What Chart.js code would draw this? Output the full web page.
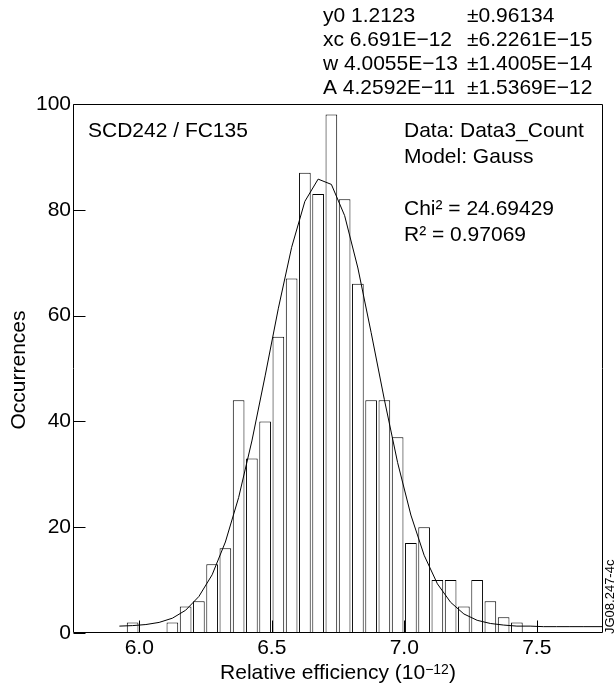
<!DOCTYPE html>
<html><head><meta charset="utf-8">
<script src="https://cdn.jsdelivr.net/npm/chart.js@4.4.0/dist/chart.umd.min.js"></script>
<style>html,body{margin:0;padding:0;background:#fff}canvas{display:block}</style>
</head><body>
<canvas id="c" width="615" height="689"></canvas>
<script>
// ---- data ----
const binCenters = [5.975, 6.025, 6.075, 6.125, 6.175, 6.225, 6.275, 6.325, 6.375, 6.425, 6.475, 6.525, 6.575, 6.625, 6.675, 6.725, 6.775, 6.825, 6.875, 6.925, 6.975, 7.025, 7.075, 7.125, 7.175, 7.225, 7.275, 7.325, 7.375, 7.425];
const counts     = [2, 0, 0, 2, 5, 6, 13, 16, 44, 33, 40, 56, 67, 87, 83, 98, 82, 66, 44, 44, 37, 17, 20, 10, 10, 5, 10, 6, 3, 2];
const fitX = [5.925, 5.975, 6.025, 6.075, 6.125, 6.175, 6.225, 6.275, 6.325, 6.375, 6.425, 6.475, 6.525, 6.575, 6.625, 6.675, 6.725, 6.775, 6.825, 6.875, 6.925, 6.975, 7.025, 7.075, 7.125, 7.175, 7.225, 7.275, 7.325, 7.375, 7.425, 7.475, 7.525, 7.575, 7.625, 7.675, 7.75];
const fitY = [1.3, 1.4, 1.6, 2.0, 2.8, 4.3, 6.9, 11.0, 17.2, 25.6, 36.3, 48.6, 61.4, 72.9, 81.6, 85.8, 84.8, 78.9, 69.0, 56.8, 44.1, 32.2, 22.3, 14.7, 9.3, 5.8, 3.6, 2.4, 1.8, 1.5, 1.3, 1.3, 1.2, 1.2, 1.2, 1.2, 1.2];
const xTickValues = [6.0, 6.5, 7.0, 7.5];
const yTickValues = [0, 20, 40, 60, 80, 100];
const paramNames  = ["y0 1.2123", "xc 6.691E\u221212", "w 4.0055E\u221213", "A 4.2592E\u221211"];
const paramErrors = ["\u00b10.96134", "\u00b16.2261E\u221215", "\u00b11.4005E\u221214", "\u00b11.5369E\u221212"];
const infoLines = ["Data: Data3_Count", "Model: Gauss", "", "Chi\u00b2 = 24.69429", "R\u00b2 = 0.97069"];
const sampleLabel = "SCD242 / FC135";
const yTitle = "Occurrences";
const xTitleMain = "Relative efficiency (10";
const xTitleSup = "\u221212";
const xTitleEnd = ")";
const figId = "JG08.247-4c";

const FONT = '"Liberation Sans", Arial, Helvetica, sans-serif';
Chart.defaults.font.family = FONT;
Chart.defaults.font.size = 21;
Chart.defaults.color = '#000';

const decor = {
  id: 'decor',
  afterDatasetsDraw(chart) {
    const {ctx, chartArea: a, scales: {x, y}} = chart;
    ctx.save();
    ctx.strokeStyle = '#000';
    ctx.lineWidth = 1;
    const L = Math.round(a.left) + 0.5, R = Math.round(a.right) - 0.5;
    const T = Math.round(a.top) + 0.5, B = Math.round(a.bottom) - 0.5;
    ctx.beginPath();
    ctx.rect(L, T, R - L, B - T);
    xTickValues.forEach(v => {
      const px = Math.round(x.getPixelForValue(v)) + 0.5;
      ctx.moveTo(px, B); ctx.lineTo(px, B - 12);
    });
    yTickValues.forEach(v => {
      const py = Math.round(y.getPixelForValue(v)) + 0.5;
      ctx.moveTo(L, py); ctx.lineTo(L + 12, py);
    });
    ctx.stroke();
    ctx.restore();
  },
  afterDraw(chart) {
    const {ctx, chartArea: a} = chart;
    ctx.save();
    ctx.fillStyle = '#000';
    ctx.textBaseline = 'alphabetic';
    ctx.font = '21px ' + FONT;
    ctx.textAlign = 'left';
    // fit parameters above the plot
    paramNames.forEach((t, i) => ctx.fillText(t, 323, 22 + 24 * i));
    paramErrors.forEach((t, i) => ctx.fillText(t, 467, 22 + 24 * i));
    // labels inside the plot
    ctx.fillText(sampleLabel, a.left + 15, a.top + 33);
    infoLines.forEach((t, i) => { if (t) ctx.fillText(t, 404, a.top + 33 + 26 * i); });
    // y title
    ctx.save();
    ctx.translate(25, 370);
    ctx.rotate(-Math.PI / 2);
    ctx.textAlign = 'center';
    ctx.fillText(yTitle, 0, 0);
    ctx.restore();
    // x title with superscript
    ctx.font = '21px ' + FONT;
    const w1 = ctx.measureText(xTitleMain).width;
    const w3 = ctx.measureText(xTitleEnd).width;
    ctx.font = '14px ' + FONT;
    const w2 = ctx.measureText(xTitleSup).width;
    const cx = (a.left + a.right) / 2;
    let sx = cx - (w1 + w2 + w3) / 2;
    ctx.font = '21px ' + FONT;
    ctx.fillText(xTitleMain, sx, 679);
    ctx.font = '14px ' + FONT;
    ctx.fillText(xTitleSup, sx + w1, 674);
    ctx.font = '21px ' + FONT;
    ctx.fillText(xTitleEnd, sx + w1 + w2, 679);
    // figure id
    ctx.save();
    ctx.font = '13px ' + FONT;
    ctx.translate(614, 634);
    ctx.rotate(-Math.PI / 2);
    ctx.textAlign = 'left';
    ctx.fillText(figId, 0, 0);
    ctx.restore();
    ctx.restore();
  }
};

new Chart(document.getElementById('c'), {
  type: 'bar',
  data: {
    datasets: [
      {
        type: 'bar',
        data: binCenters.map((v, i) => ({x: v, y: counts[i]})),
        backgroundColor: '#fff',
        borderColor: '#000',
        borderWidth: 1,
        barPercentage: 0.88,
        categoryPercentage: 1,
        grouped: false,
        order: 2
      },
      {
        type: 'line',
        data: fitX.map((v, i) => ({x: v, y: fitY[i]})),
        borderColor: '#000',
        borderWidth: 1,
        pointRadius: 0,
        tension: 0,
        fill: false,
        order: 1
      }
    ]
  },
  options: {
    responsive: false,
    animation: false,
    devicePixelRatio: 1,
    layout: {padding: {top: 104, right: 12, left: 0, bottom: 0}},
    plugins: {legend: {display: false}, tooltip: {enabled: false}},
    scales: {
      x: {
        type: 'linear', min: 5.75, max: 7.75, offset: false,
        grid: {display: false, drawTicks: false},
        border: {display: false},
        afterBuildTicks: s => { s.ticks = xTickValues.map(v => ({value: v})); },
        ticks: {padding: 3, maxRotation: 0, autoSkip: false, callback: v => Number(v).toFixed(1)},
        afterFit: s => { s.height = 56; }
      },
      y: {
        type: 'linear', min: 0, max: 100,
        grid: {display: false, drawTicks: false},
        border: {display: false},
        afterBuildTicks: s => { s.ticks = yTickValues.map(v => ({value: v})); },
        ticks: {padding: 2},
        afterFit: s => { s.width = 73; }
      }
    }
  },
  plugins: [decor]
});
</script>
</body></html>
